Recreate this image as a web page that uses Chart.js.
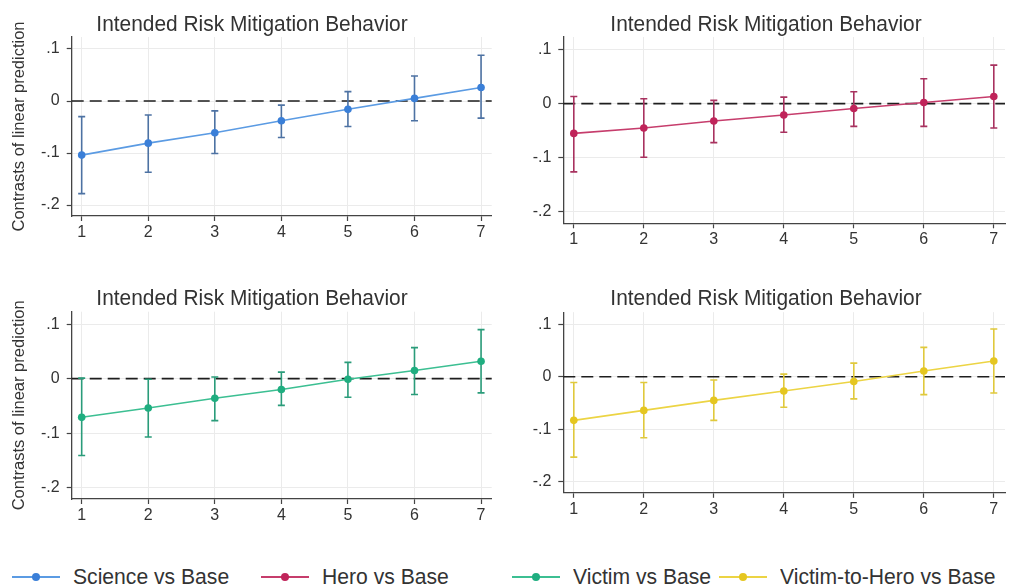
<!DOCTYPE html>
<html>
<head>
<meta charset="utf-8">
<script src="https://cdn.jsdelivr.net/npm/chart.js@4.4.1/dist/chart.umd.min.js"></script>
<style>
  html, body { margin: 0; padding: 0; background: #ffffff; }
  #page { position: relative; width: 1009px; height: 588px; overflow: hidden;
          font-family: "Liberation Sans", Arial, Helvetica, sans-serif; color: #333333; }
  #page canvas { position: absolute; }
  .ptitle { position: absolute; width: 420px; height: 26px; line-height: 26px; text-align: center;
            font-size: 22px; white-space: nowrap; color: #333333;
            transform: scaleX(0.95); transform-origin: 50% 50%; }
  .lg-item { position: absolute; top: 563px; height: 28px; line-height: 28px; font-size: 22px;
             white-space: nowrap; color: #333333; }
  .lg-key { position: absolute; top: 13px; height: 2px; }
  .lg-dot { position: absolute; top: -3px; width: 8px; height: 8px; border-radius: 50%; }
  .lg-text { position: absolute; top: 0; transform: scaleX(0.96); transform-origin: 0 50%; }
</style>
</head>
<body>
<div id="page">
  <canvas id="p1" width="505" height="260" style="left:0px;top:0px"></canvas>
  <canvas id="p2" width="486" height="260" style="left:523px;top:0px"></canvas>
  <canvas id="p3" width="505" height="260" style="left:0px;top:275px"></canvas>
  <canvas id="p4" width="486" height="260" style="left:523px;top:275px"></canvas>
  <div id="titles"></div>
  <div id="legend"></div>
</div>
<script>
// Levels of the moderator on the x axis
const levels = [1, 2, 3, 4, 5, 6, 7];

// y axis ticks and their labels
const yTickValues = [-0.2, -0.1, 0, 0.1];
const yTickLabels = ['-.2', '-.1', '0', '.1'];

const panelTitle = 'Intended Risk Mitigation Behavior';
const yAxisTitle = 'Contrasts of linear prediction';
const seriesNames = ['Science vs Base', 'Hero vs Base', 'Victim vs Base', 'Victim-to-Hero vs Base'];

// Contrast estimates with 95% confidence limits
const scienceEst  = [-0.104, -0.081, -0.061, -0.038, -0.016, 0.005, 0.026];
const scienceLow  = [-0.178, -0.137, -0.101, -0.070, -0.049, -0.038, -0.033];
const scienceHigh = [-0.030, -0.027, -0.019, -0.008, 0.018, 0.048, 0.088];

const heroEst  = [-0.055, -0.045, -0.032, -0.021, -0.009, 0.002, 0.013];
const heroLow  = [-0.126, -0.099, -0.072, -0.053, -0.042, -0.042, -0.045];
const heroHigh = [0.013, 0.009, 0.006, 0.012, 0.022, 0.046, 0.071];

const victimEst  = [-0.071, -0.054, -0.036, -0.020, -0.001, 0.015, 0.032];
const victimLow  = [-0.141, -0.107, -0.077, -0.049, -0.034, -0.029, -0.026];
const victimHigh = [0.001, -0.001, 0.003, 0.012, 0.030, 0.057, 0.090];

const vthEst  = [-0.083, -0.064, -0.045, -0.027, -0.009, 0.011, 0.030];
const vthLow  = [-0.153, -0.116, -0.083, -0.058, -0.042, -0.034, -0.031];
const vthHigh = [-0.011, -0.011, -0.006, 0.005, 0.026, 0.056, 0.091];

// Palette for each comparison: connecting line, markers, confidence caps
const palette = [
  { line: '#5b9be3', marker: '#3a7fd8', ci: '#4d72a3' },
  { line: '#c63d6c', marker: '#c0245a', ci: '#a8325f' },
  { line: '#3cbf92', marker: '#1fae80', ci: '#2a9c7a' },
  { line: '#ecd444', marker: '#e5c620', ci: '#e0c93c' }
];

const FONT = '"Liberation Sans", Arial, Helvetica, sans-serif';
Chart.defaults.font.family = FONT;
Chart.defaults.color = '#333333';

// Draws the dashed zero reference and the capped confidence intervals
const ciPlugin = {
  id: 'ciBars',
  beforeDatasetsDraw(chart) {
    const { ctx, chartArea, scales } = chart;
    const xs = scales.x, ys = scales.y;
    const y0 = ys.getPixelForValue(0);
    ctx.save();
    ctx.strokeStyle = '#1e1e1e';
    ctx.lineWidth = 1.6;
    ctx.setLineDash([12, 6]);
    ctx.beginPath();
    ctx.moveTo(chartArea.left, y0);
    ctx.lineTo(chartArea.right, y0);
    ctx.stroke();
    ctx.setLineDash([]);
    chart.data.datasets.forEach(ds => {
      ctx.strokeStyle = ds.ciColor;
      ctx.lineWidth = 1.6;
      ds.data.forEach((pt, i) => {
        const px = xs.getPixelForValue(pt.x);
        const lo = ys.getPixelForValue(ds.ciLow[i]);
        const hi = ys.getPixelForValue(ds.ciHigh[i]);
        ctx.beginPath();
        ctx.moveTo(px, lo); ctx.lineTo(px, hi);
        ctx.moveTo(px - 3.5, lo); ctx.lineTo(px + 3.5, lo);
        ctx.moveTo(px - 3.5, hi); ctx.lineTo(px + 3.5, hi);
        ctx.stroke();
      });
    });
    ctx.restore();
  }
};

const panels = [
  { id: 'p1', est: scienceEst, low: scienceLow, high: scienceHigh, col: palette[0],
    box: { left: 0, top: 0, w: 505, h: 260 }, area: { L: 71.7, T: 37, R: 491.7, B: 216 }, yTitle: true },
  { id: 'p2', est: heroEst, low: heroLow, high: heroHigh, col: palette[1],
    box: { left: 523, top: 0, w: 486, h: 260 }, area: { L: 563.3, T: 37, R: 1007.5, B: 223.3 }, yTitle: false },
  { id: 'p3', est: victimEst, low: victimLow, high: victimHigh, col: palette[2],
    box: { left: 0, top: 275, w: 505, h: 260 }, area: { L: 71.7, T: 311.7, R: 491.7, B: 499 }, yTitle: true },
  { id: 'p4', est: vthEst, low: vthLow, high: vthHigh, col: palette[3],
    box: { left: 523, top: 275, w: 486, h: 260 }, area: { L: 563.3, T: 312.2, R: 1007.5, B: 492.8 }, yTitle: false }
];

const X_AXIS_H = 34;

panels.forEach(p => {
  const yWidth = p.area.L - p.box.left;
  const padTop = p.area.T - p.box.top;
  const padRight = p.box.left + p.box.w - p.area.R;
  const padBottom = p.box.top + p.box.h - p.area.B - X_AXIS_H;

  new Chart(document.getElementById(p.id), {
    type: 'line',
    data: {
      datasets: [{
        data: levels.map((lv, i) => ({ x: lv, y: p.est[i] })),
        ciLow: p.low,
        ciHigh: p.high,
        ciColor: p.col.ci,
        borderColor: p.col.line,
        borderWidth: 1.6,
        pointRadius: 3.8,
        pointBackgroundColor: p.col.marker,
        pointBorderWidth: 0,
        tension: 0,
        fill: false
      }]
    },
    options: {
      responsive: false,
      animation: false,
      events: [],
      layout: { padding: { left: 0, top: padTop, right: padRight, bottom: padBottom } },
      plugins: { legend: { display: false }, tooltip: { enabled: false }, title: { display: false } },
      scales: {
        x: {
          type: 'linear',
          min: 0.85,
          max: 7.16,
          afterBuildTicks: s => { s.ticks = levels.map(v => ({ value: v })); },
          afterFit: s => { s.height = X_AXIS_H; },
          ticks: { font: { size: 16 }, color: '#333333', padding: 2, maxRotation: 0,
                   callback: v => String(v) },
          grid: { color: '#ebebeb', lineWidth: 1, tickColor: '#444444', tickLength: 5, tickWidth: 1.2 },
          border: { display: true, color: '#444444', width: 1.3 }
        },
        y: {
          type: 'linear',
          min: -0.221,
          max: 0.123,
          afterBuildTicks: s => { s.ticks = yTickValues.map(v => ({ value: v })); },
          afterFit: s => { s.width = yWidth; },
          ticks: { font: { size: 16 }, color: '#333333', padding: 7,
                   callback: v => yTickLabels[yTickValues.findIndex(t => Math.abs(t - v) < 1e-9)] },
          grid: { color: '#ebebeb', lineWidth: 1, tickColor: '#444444', tickLength: 5, tickWidth: 1.2 },
          border: { display: true, color: '#444444', width: 1.3 },
          title: { display: p.yTitle, text: yAxisTitle, font: { size: 16.5 }, color: '#333333',
                   padding: { top: 10, bottom: 0 } }
        }
      }
    },
    plugins: [ciPlugin]
  });
});

// Panel headings
const titleCentres = [[252, 24], [766, 24], [252, 298], [766, 298]];
const titlesEl = document.getElementById('titles');
titleCentres.forEach(([cx, cy]) => {
  const d = document.createElement('div');
  d.className = 'ptitle';
  d.style.left = (cx - 210) + 'px';
  d.style.top = (cy - 13) + 'px';
  d.textContent = panelTitle;
  titlesEl.appendChild(d);
});

// Shared legend below the panels: key line with a centred marker, then the label
const legendTextX = [73, 322, 573, 780];
const legendEl = document.getElementById('legend');
seriesNames.forEach((name, i) => {
  const tx = legendTextX[i];
  const kx = tx - 61;
  const item = document.createElement('div');
  item.className = 'lg-item';
  item.style.left = kx + 'px';
  const key = document.createElement('div');
  key.className = 'lg-key';
  key.style.left = '0px';
  key.style.width = '48px';
  key.style.background = palette[i].line;
  const dot = document.createElement('div');
  dot.className = 'lg-dot';
  dot.style.left = '20px';
  dot.style.background = palette[i].marker;
  key.appendChild(dot);
  const txt = document.createElement('span');
  txt.className = 'lg-text';
  txt.style.left = (tx - kx) + 'px';
  txt.textContent = name;
  item.appendChild(key);
  item.appendChild(txt);
  legendEl.appendChild(item);
});
</script>
</body>
</html>
